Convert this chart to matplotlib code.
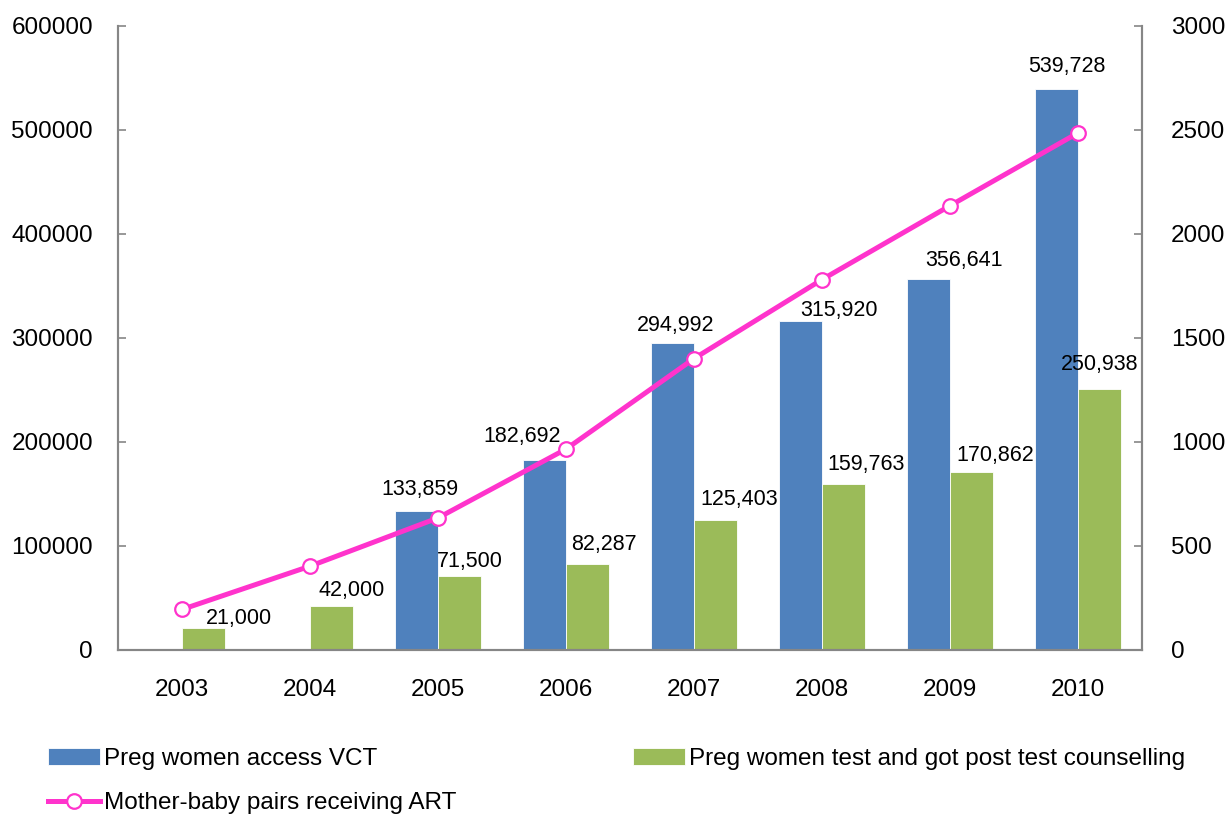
import numpy as np
import matplotlib.pyplot as plt
from matplotlib.ticker import MultipleLocator

# --- data ---
years = ['2003', '2004', '2005', '2006', '2007', '2008', '2009', '2010']
vct_access = [0, 0, 133859, 182692, 294992, 315920, 356641, 539728]
post_test_counselling = [21000, 42000, 71500, 82287, 125403, 159763, 170862, 250938]
art_pairs = [195, 403, 635, 966, 1401, 1781, 2136, 2486]

series_names = ['Preg women access VCT',
                'Preg women test and got post test counselling',
                'Mother-baby pairs receiving ART']

# label offsets (pixels): labels were nudged by hand in the original chart
vct_label_offsets = [(0, 0), (0, 0), (3, 21), (-22, 24), (3, 18), (38, 11), (35, 19), (10, 22)]
ptc_label_offsets = [(35, 10), (20, 16), (10, 14), (16, 20), (24, 20), (23, 19), (24, 17), (0, 25)]

# --- style ---
plt.rcParams['font.family'] = ['Liberation Sans', 'DejaVu Sans']
BLUE = '#4F81BD'
GREEN = '#9BBB59'
MAGENTA = '#FF33CC'
GREY = '#868686'

fig = plt.figure(figsize=(12.27, 8.14), dpi=100)
ax = fig.add_axes([118 / 1227, 1 - 650 / 814, (1142 - 118) / 1227, (650 - 26) / 814])
ax2 = ax.twinx()

x = np.arange(len(years))
w = 0.335

b1 = ax.bar(x - w / 2, vct_access, w, color=BLUE, edgecolor='white', linewidth=0.6,
            label=series_names[0], zorder=2)
b2 = ax.bar(x + w / 2, post_test_counselling, w, color=GREEN, edgecolor='white', linewidth=0.6,
            label=series_names[1], zorder=2)

for xi, val, off in zip(x, vct_access, vct_label_offsets):
    if val == 0:
        continue
    ax.annotate(f'{val:,}', (xi - w / 2, val), xytext=off, textcoords='offset pixels',
                ha='center', va='center', fontsize=15.5, zorder=5)
for xi, val, off in zip(x, post_test_counselling, ptc_label_offsets):
    ax.annotate(f'{val:,}', (xi + w / 2, val), xytext=off, textcoords='offset pixels',
                ha='center', va='center', fontsize=15.5, zorder=5)

ln, = ax2.plot(x, art_pairs, color=MAGENTA, lw=3.6, marker='o', ms=10.5,
               mfc='white', mec=MAGENTA, mew=1.6, label=series_names[2], zorder=4)

ax.set_xlim(-0.5, len(years) - 0.5)
ax.set_ylim(0, 600000)
ax2.set_ylim(0, 3000)
ax.yaxis.set_major_locator(MultipleLocator(100000))
ax2.yaxis.set_major_locator(MultipleLocator(500))
ax.set_xticks(x)
ax.set_xticklabels(years)

for a in (ax, ax2):
    a.spines['top'].set_visible(False)
    for s in ('left', 'right', 'bottom'):
        a.spines[s].set_color(GREY)
        a.spines[s].set_linewidth(1.5)
ax.tick_params(axis='x', length=0, pad=21, labelsize=17.5)
ax.tick_params(axis='y', direction='in', length=6, width=1.2, color=GREY, pad=18, labelsize=17.5)
ax2.tick_params(axis='y', direction='in', length=6, width=1.2, color=GREY, pad=21, labelsize=17.5)

ax2.set_zorder(ax.get_zorder() + 1)
ax2.patch.set_visible(False)

fig.legend(handles=[b1, ln, b2], loc='upper left', bbox_to_anchor=(0.039, 0.081),
           ncol=2, frameon=False, fontsize=17.5, handlelength=2.15, handleheight=0.7,
           handletextpad=0.17, columnspacing=7.24, labelspacing=0.92,
           borderpad=0, borderaxespad=0)

fig.savefig('out.png', dpi=100)
